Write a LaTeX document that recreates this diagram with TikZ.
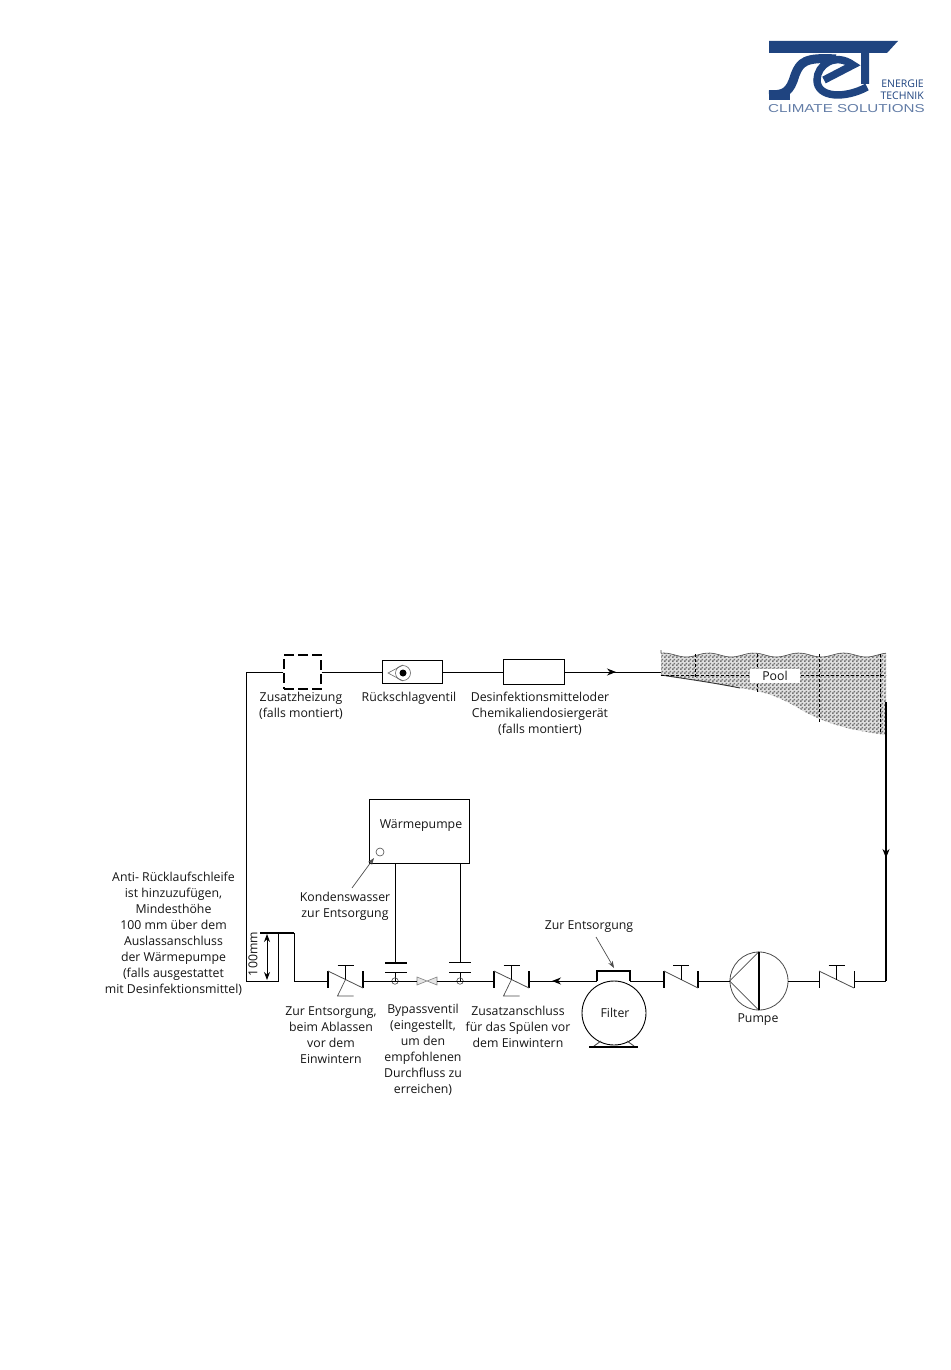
\documentclass[tikz,border=0pt]{standalone}
\usepackage{fontspec}
\setmainfont{Open Sans}
\newfontfamily\logofont[FakeStretch=1.32]{Liberation Sans}
\usetikzlibrary{arrows.meta,patterns}
\definecolor{setblue}{HTML}{1F4480}
\pgfdeclarepatternformonly{poolmesh}{\pgfqpoint{0pt}{0pt}}{\pgfqpoint{4pt}{4pt}}{\pgfqpoint{4pt}{4pt}}{%
	\pgfpathrectangle{\pgfqpoint{0pt}{0pt}}{\pgfqpoint{2pt}{2pt}}%
	\pgfpathrectangle{\pgfqpoint{2pt}{2pt}}{\pgfqpoint{2pt}{2pt}}%
	\pgfusepath{fill}}
\tikzset{
	txt/.style={font=\fontsize{12.3}{16}\selectfont, align=center, text=black!92, inner sep=0pt},
	pipe/.style={draw=black, line width=0.9pt},
	bar/.style={draw=black, line width=1.4pt},
	tip/.style={-{Stealth[length=9pt,width=7pt]}, line width=0.9pt},
	tipsmall/.style={-{Stealth[length=7pt,width=5pt]}, line width=0.7pt, draw=black!70},
	unit/.style={draw=black, line width=1pt, inner sep=0pt}
}
\begin{document}
\begin{tikzpicture}[x=1pt,y=-1pt]
	\useasboundingbox (0,0) rectangle (950,1370);

	% Logo
	\fill[setblue] (769,41) -- (898,41) -- (887,53) -- (869,53) -- (869,84) -- (861,84) -- (861,53) -- (769,53) -- cycle;
	\draw[setblue, line width=9pt] (836,59) .. controls (805,57) and (800,62) .. (795,75) .. controls (790,92) and (785,95) .. (769,95);
	\fill[setblue] (769,90) rectangle (790,100);
	\draw[setblue, line width=7.5pt] (824,80) -- (853,65) .. controls (835,52) and (817,65) .. (817,80) .. controls (817,98) and (845,99) .. (867,87);
	\node[font=\fontsize{10.5}{12}\selectfont, text=setblue, align=right, anchor=east, inner sep=0pt] (logotext) at (924,90) {ENERGIE\\TECHNIK};
	\node[font=\logofont\fontsize{11.5}{12}\selectfont, text=setblue!70, anchor=west, inner sep=0pt] (logoclaim) at (768,108.5) {CLIMATE SOLUTIONS};

	% Pool
	\path[preaction={fill=black!12}, pattern=poolmesh, pattern color=black!55] (661,650) -- plot[domain=661:886, samples=70, smooth] (\x,{655+2*sin(\x*8)}) -- (886,735) .. controls (850,730) and (830,725) .. (805,712) .. controls (785,700) and (770,692) .. (740,688) .. controls (710,682) and (680,678) .. (661,675) -- cycle;
	\draw[black!70, line width=0.6pt] (661,650) -- plot[domain=661:886, samples=70, smooth] (\x,{655+2*sin(\x*8)});
	\draw[black!80, line width=0.9pt] (740,688) .. controls (710,682) and (680,678) .. (661,675);
	\foreach \x/\ybot in {695/679, 757/692, 819/722, 880/734}
		\draw[black, densely dashed, line width=0.7pt] (\x,654) -- (\x,\ybot);
	\draw[black, densely dashed, line width=1pt] (661,675) -- (886,675);
	\node[txt, fill=white, minimum width=50pt, minimum height=14pt] (pool) at (775,675.5) {Pool};
	\coordinate (poolin) at (661,672);
	\coordinate (poolout) at (886,702);

	% Boxes
	\node[unit, dash pattern=on 10pt off 4pt, line width=1.4pt, minimum width=37pt, minimum height=34pt] (zusatzheizung) at (302.5,672) {};
	\node[unit, minimum width=60pt, minimum height=23pt] (rueckschlag) at (412,672) {};
	\node[unit, minimum width=61pt, minimum height=25pt] (dosierer) at (534,672) {};
	\node[unit, minimum width=100pt, minimum height=64pt] (waermepumpe) at (419.5,831) {};
	\node[txt] (wplabel) at (421,825.5) {Wärmepumpe};
	\node[draw=black!70, circle, minimum size=8pt, inner sep=0pt, line width=0.6pt] (kondensat) at (380,852) {};

	% Check valve in its box
	\draw[black!60, line width=0.6pt] (403,665) -- (388,673) -- (403,681);
	\node[draw=black!60, circle, minimum size=15pt, inner sep=0pt, line width=0.6pt] (kugelring) at (403,673) {};
	\node[fill=black, circle, minimum size=7pt, inner sep=0pt] (kugel) at (403,673) {};

	% Filter and pump
	\node[draw=black, line width=0.9pt, fill=white, circle, minimum size=64pt, inner sep=0pt] (filter) at (614,1013) {};
	\node[txt] (filterlabel) at (615,1013) {Filter};
	\draw[bar] (597,981) -- (597,971) -- (630,971) -- (630,981);
	\draw[black!70, line width=0.9pt] (594,1046) -- (601,1041);
	\draw[black!70, line width=0.9pt] (634,1046) -- (627,1041);
	\draw[bar] (589,1047) -- (638,1047);
	\node[draw=black!70, line width=0.8pt, circle, minimum size=58pt, inner sep=0pt] (pumpe) at (759,981) {};
	\draw[black!70, line width=0.8pt] (pumpe.north) -- (pumpe.west) -- (pumpe.south);
	\draw[bar] (pumpe.north) -- (pumpe.south);

	% Valves, left and right end
	\coordinate (v1l) at (328,981); \coordinate (v1r) at (363,981);
	\coordinate (v2l) at (494,981); \coordinate (v2r) at (529,981);
	\coordinate (v3l) at (664,981); \coordinate (v3r) at (698,981);
	\coordinate (v4l) at (819,981); \coordinate (v4r) at (854,981);
	\foreach \l/\r/\bl/\bw in {328/363/1.4/1, 494/529/1.4/1, 664/698/1.2/0, 819/854/0.9/0}{
		\pgfmathsetmacro{\m}{(\l+\r)/2}
		\draw[line width=\bl pt] (\l,971) -- (\l,988);
		\draw[line width=\bl pt] (\r,971) -- (\r,988);
		\draw[black!70, line width=0.8pt] (\l,971) -- (\r,988);
		\draw[line width=0.8pt] (\m,979.5) -- (\m,965);
		\draw[line width=0.8pt] (\m-8,965) -- (\m+8,965);
		\ifnum\bw=1
			\draw[black!70, line width=0.7pt] (\m,979.5) -- (\m-8,996) -- (\m+8,996);
		\fi
	}

	% Bypass
	\coordinate (vorlauf) at (395,981);
	\coordinate (ruecklauf) at (460,981);
	\draw[bar] (385,963) -- (407,963);
	\draw[pipe] (385,972) -- (407,972);
	\draw[pipe] (449,962) -- (471,962);
	\draw[pipe] (449,972) -- (471,972);
	\draw[pipe] (395,863) -- (395,963);
	\draw[pipe] (460,863) -- (460,962);
	\draw[pipe] (395,972) -- (vorlauf);
	\draw[pipe] (460,972) -- (ruecklauf);
	\node[draw=black!70, circle, minimum size=6.5pt, inner sep=0pt, line width=0.6pt] (vorlaufring) at (vorlauf) {};
	\node[draw=black!70, circle, minimum size=6.5pt, inner sep=0pt, line width=0.6pt] (ruecklaufring) at (ruecklauf) {};
	\draw[black!50, line width=0.6pt, fill=black!10] (417,977) -- (437,985) -- (437,977) -- (417,985) -- cycle;

	% Pipe
	\draw[pipe] (zusatzheizung.west) -- (246,672) -- (246,981) -- (278,981) -- (278,933);
	\draw[bar] (260,933) -- (294,933);
	\draw[pipe] (294,933) -- (294,981) -- (v1l);
	\draw[pipe] (zusatzheizung.east) -- (rueckschlag.west);
	\draw[pipe] (rueckschlag.east) -- (dosierer.west);
	\draw[pipe] (dosierer.east) -- (poolin);
	\draw[tip] (dosierer.east) -- (616,672);
	\draw[pipe] (v1r) -- (417,981);
	\draw[pipe] (437,981) -- (v2l);
	\draw[pipe] (v2r) -- (597,981);
	\draw[tip] (597,981) -- (552,981);
	\draw[pipe] (630,981) -- (v3l);
	\draw[pipe] (v3r) -- (pumpe.west);
	\draw[pipe] (pumpe.east) -- (v4l);
	\draw[pipe] (v4r) -- (886,981);
	\draw[line width=1.3pt] (886,981) -- (poolout);
	\draw[tip] (poolout) -- (886,858);

	% Height of the loop
	\draw[{Stealth[length=8pt,width=6pt]}-{Stealth[length=8pt,width=6pt]}, line width=1pt] (267,934) -- (267,980);
	\node[txt, rotate=90] (hoehe) at (253,954) {100mm};

	% Labels
	\node[txt] (zusatzlabel) at (301,706) {Zusatzheizung\\(falls montiert)};
	\node[txt] (rueckschlaglabel) at (409,698) {Rückschlagventil};
	\node[txt] (dosiererlabel) at (540,714) {Desinfektionsmitteloder\\Chemikaliendosiergerät\\(falls montiert)};
	\node[txt] (schleifelabel) at (173.5,934) {Anti- Rücklaufschleife\\ist hinzuzufügen,\\Mindesthöhe\\100 mm über dem\\Auslassanschluss\\der Wärmepumpe\\(falls ausgestattet\\mit Desinfektionsmittel)};
	\node[txt] (ablasslabel) at (331,1035) {Zur Entsorgung,\\beim Ablassen\\vor dem\\Einwintern};
	\node[txt] (bypasslabel) at (423,1050) {Bypassventil\\(eingestellt,\\um den\\empfohlenen\\Durchfluss zu\\erreichen)};
	\node[txt] (zusatzanschluss) at (518,1027) {Zusatzanschluss\\für das Spülen vor\\dem Einwintern};
	\node[txt] (pumpelabel) at (758,1020) {Pumpe};
	\node[txt] (entsorgunglabel) at (589,927) {Zur Entsorgung};
	\node[txt] (kondenslabel) at (345,906) {Kondenswasser\\zur Entsorgung};

	% Leaders
	\draw[tipsmall] (352,888) -- (374,858);
	\draw[tipsmall] (596,937) -- (614,968);
\end{tikzpicture}
\end{document}
